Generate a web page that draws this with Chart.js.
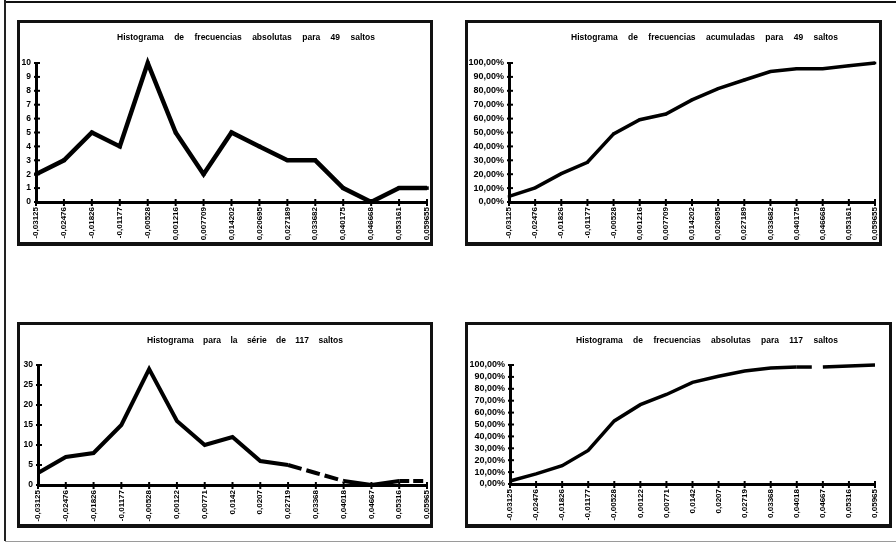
<!DOCTYPE html>
<html>
<head>
<meta charset="utf-8">
<script src="https://cdn.jsdelivr.net/npm/chart.js@4.4.0/dist/chart.umd.min.js"></script>
<style>
  html, body { margin: 0; padding: 0; background: #fff; }
  body { width: 896px; height: 544px; position: relative; overflow: hidden; }
  .rule { position: absolute; }
  .box { position: absolute; }
  .box canvas { display: block; }
</style>
</head>
<body>
<div class="rule" style="left:5px;top:1px;width:891px;height:2px;background:#111"></div>
<div class="rule" style="left:4px;top:0;width:2px;height:541px;background:#222"></div>
<div class="rule" style="left:5px;top:541px;width:891px;height:1px;background:#9a9a9a"></div>

<div class="box" style="left:17px;top:20px"><canvas id="absolutas49" width="416" height="226"></canvas></div>
<div class="box" style="left:465px;top:20px"><canvas id="acumuladas49" width="417" height="226"></canvas></div>
<div class="box" style="left:17px;top:322px"><canvas id="absolutas117" width="416" height="206"></canvas></div>
<div class="box" style="left:465px;top:322px"><canvas id="acumuladas117" width="427" height="206"></canvas></div>

<script>
// Class marks (interval limits) for the 49-jump series
const clases49 = ['-0,03125', '-0,02476', '-0,01826', '-0,01177', '-0,00528', '0,001216', '0,007709',
  '0,014202', '0,020695', '0,027189', '0,033682', '0,040175', '0,046668', '0,053161', '0,059655'];
// Class marks for the 117-jump series
const clases117 = ['-0,03125', '-0,02476', '-0,01826', '-0,01177', '-0,00528', '0,00122', '0,00771',
  '0,0142', '0,0207', '0,02719', '0,03368', '0,04018', '0,04667', '0,05316', '0,05965'];

// Absolute frequencies, 49 jumps
const frecAbs49 = [2, 3, 5, 4, 10, 5, 2, 5, 4, 3, 3, 1, 0, 1, 1];
// Cumulative frequencies (%), 49 jumps
const frecAcum49 = [4.08, 10.2, 20.41, 28.57, 48.98, 59.18, 63.27, 73.47, 81.63, 87.76, 93.88, 95.92, 95.92, 97.96, 100];
// Absolute frequencies, 117 jumps
const frecAbs117 = [3, 7, 8, 15, 29, 16, 10, 12, 6, 5, 3, 1, 0, 1, 1];
// Cumulative frequencies (%), 117 jumps
const frecAcum117 = [2.56, 8.55, 15.38, 28.21, 52.99, 66.67, 75.21, 85.47, 90.6, 94.87, 97.44, 98.29, 98.29, 99.15, 100];

// Y tick settings
const ejeAbs49 = { min: 0, max: 10, step: 1 };
const ejePct = { min: 0, max: 100, step: 10 };
const ejeAbs117 = { min: 0, max: 30, step: 5 };

Chart.defaults.font.family = "'Liberation Sans', Arial, Helvetica, sans-serif";
Chart.defaults.color = '#000';

const fmtEntero = v => String(v);
const fmtPct = v => v.toFixed(2).replace('.', ',') + '%';

// Short cross marks at every tick, across both axis lines
const axisMarks = {
  id: 'axisMarks',
  afterDraw(chart) {
    const { ctx, chartArea: a } = chart;
    const x = chart.scales.x, y = chart.scales.y;
    ctx.save();
    ctx.strokeStyle = '#000';
    ctx.lineWidth = 2;
    x.ticks.forEach((t, i) => {
      const px = x.getPixelForTick(i);
      ctx.beginPath(); ctx.moveTo(px, a.bottom - 3); ctx.lineTo(px, a.bottom + 4); ctx.stroke();
    });
    y.ticks.forEach((t, i) => {
      const py = y.getPixelForTick(i);
      ctx.beginPath(); ctx.moveTo(a.left - 2, py); ctx.lineTo(a.left + 4, py); ctx.stroke();
    });
    ctx.restore();
  }
};

// Heavy frame around each chart
const frame = {
  id: 'frame',
  afterDraw(chart) {
    const { ctx, width, height } = chart;
    ctx.save();
    ctx.strokeStyle = '#111';
    ctx.lineWidth = 3;
    ctx.strokeRect(1.5, 1.5, width - 3, height - 3);
    ctx.fillStyle = '#111';
    ctx.fillRect(0, height - 4, width, 4);
    ctx.restore();
  }
};

// Widely spaced bold heading, words spread between x0 and x1
const heading = {
  id: 'heading',
  afterDraw(chart, args, o) {
    const ctx = chart.ctx;
    ctx.save();
    ctx.font = "bold 8.5px 'Liberation Sans', Arial, sans-serif";
    ctx.fillStyle = '#000';
    ctx.textBaseline = 'middle';
    const words = o.text.split(' ');
    const ws = words.map(w => ctx.measureText(w).width);
    const total = ws.reduce((s, w) => s + w, 0);
    const gap = (o.x1 - o.x0 - total) / (words.length - 1);
    let x = o.x0;
    words.forEach((w, i) => { ctx.fillText(w, x, o.y); x += ws[i] + gap; });
    ctx.restore();
  }
};

function grafico(id, labels, values, eje, fmt, yFont, head, area, line) {
  new Chart(document.getElementById(id), {
    type: 'line',
    data: {
      labels: labels,
      datasets: [{
        data: values,
        borderColor: '#000',
        backgroundColor: '#000',
        borderWidth: line.width,
        pointStyle: 'rect',
        pointRadius: line.point,
        pointBorderWidth: 0,
        tension: 0,
        clip: false,
        segment: { borderDash: c => line.dashes[c.p0DataIndex] }
      }]
    },
    options: {
      responsive: false,
      animation: false,
      events: [],
      layout: { padding: { top: area.top, right: area.right, left: 0, bottom: 0 } },
      plugins: {
        legend: { display: false },
        tooltip: { enabled: false },
        title: { display: false },
        heading: head
      },
      scales: {
        x: {
          grid: { display: false, drawTicks: false },
          border: { display: true, width: 3, color: '#000' },
          ticks: { autoSkip: false, minRotation: 90, maxRotation: 90, padding: 5, font: { size: 8, weight: 'bold' } },
          afterFit(s) { s.height = area.xh; s.paddingLeft = 0; s.paddingRight = 0; }
        },
        y: {
          min: eje.min, max: eje.max,
          grid: { display: false, drawTicks: false },
          border: { display: true, width: 3, color: '#000' },
          ticks: { autoSkip: false, stepSize: eje.step, padding: 5, callback: fmt, font: { size: yFont, weight: 'bold' } },
          afterFit(s) { s.width = area.left; s.paddingTop = 0; s.paddingBottom = 0; }
        }
      }
    },
    plugins: [axisMarks, frame, heading]
  });
}

grafico('absolutas49', clases49, frecAbs49, ejeAbs49, fmtEntero, 8.5,
  { text: 'Histograma de frecuencias absolutas para 49 saltos', x0: 100, x1: 358, y: 18 },
  { left: 19, right: 6, top: 43, xh: 44 },
  { width: 4.5, point: 2.5, dashes: {} });

grafico('acumuladas49', clases49, frecAcum49, ejePct, fmtPct, 9,
  { text: 'Histograma de frecuencias acumuladas para 49 saltos', x0: 106, x1: 373, y: 18 },
  { left: 44, right: 7, top: 43, xh: 44 },
  { width: 3.5, point: 1.8, dashes: {} });

grafico('absolutas117', clases117, frecAbs117, ejeAbs117, fmtEntero, 8.5,
  { text: 'Histograma para la série de 117 saltos', x0: 130, x1: 326, y: 19 },
  { left: 21, right: 6, top: 43, xh: 43 },
  { width: 4, point: 0, dashes: { 9: [14, 5], 10: [14, 5], 13: [10, 4] } });

grafico('acumuladas117', clases117, frecAcum117, ejePct, fmtPct, 9,
  { text: 'Histograma de frecuencias absolutas para 117 saltos', x0: 111, x1: 373, y: 19 },
  { left: 45, right: 17, top: 43, xh: 44 },
  { width: 3.5, point: 0, dashes: { 11: [15, 12] } });
</script>
</body>
</html>
